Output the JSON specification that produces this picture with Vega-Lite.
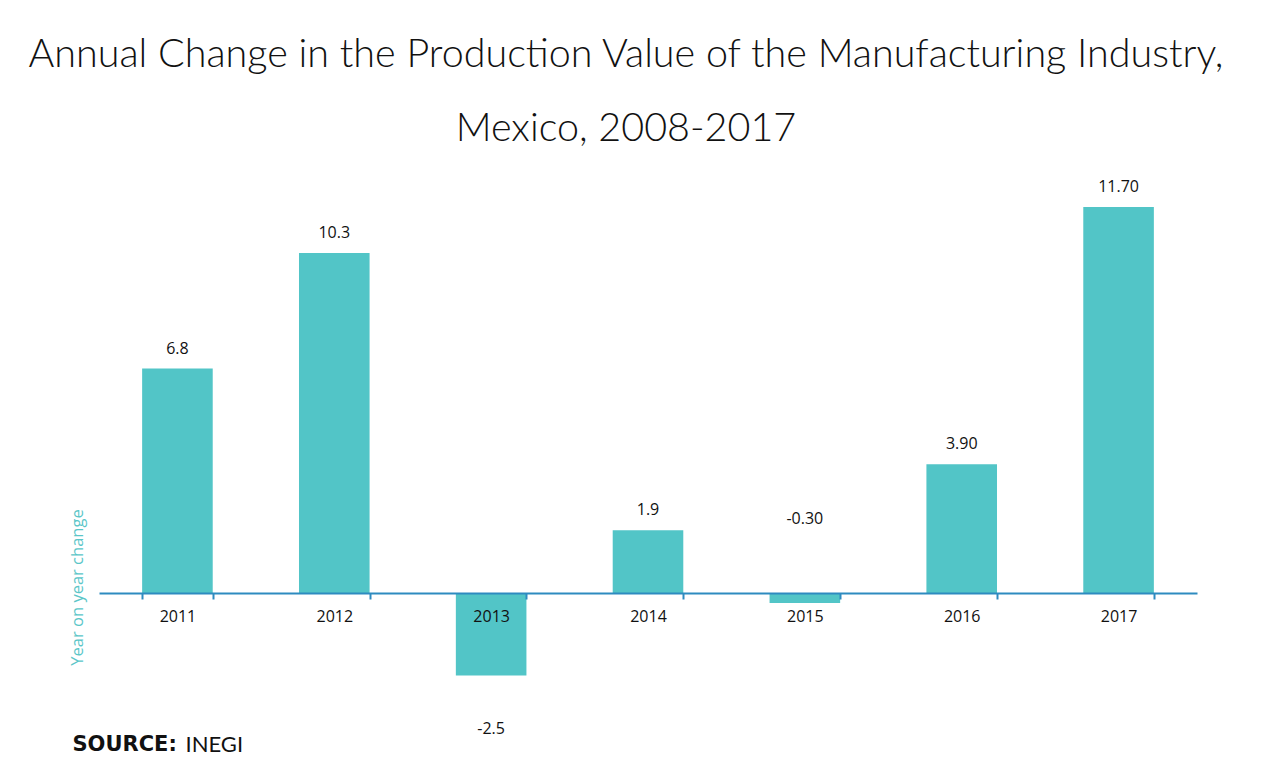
{
  "$schema": "https://vega.github.io/schema/vega-lite/v6.json",
  "width": 1098,
  "height": 495,
  "autosize": {"type": "none"},
  "padding": {"left": 99, "top": 197, "right": 64, "bottom": 81},
  "background": "white",
  "title": {
    "text": ["Annual Change in the Production Value of the Manufacturing Industry,", "Mexico, 2008-2017"],
    "anchor": "middle",
    "frame": "group",
    "dx": -22,
    "font": "Lato",
    "fontSize": 39.5,
    "fontWeight": 300,
    "color": "#111111",
    "lineHeight": 74,
    "baseline": "alphabetic",
    "offset": -2
  },
  "data": {
    "values": [
      {"year": "2011", "value": 6.8, "label": "6.8"},
      {"year": "2012", "value": 10.3, "label": "10.3"},
      {"year": "2013", "value": -2.5, "label": "-2.5"},
      {"year": "2014", "value": 1.9, "label": "1.9"},
      {"year": "2015", "value": -0.3, "label": "-0.30"},
      {"year": "2016", "value": 3.9, "label": "3.90"},
      {"year": "2017", "value": 11.7, "label": "11.70"}
    ]
  },
  "config": {"view": {"stroke": null}},
  "encoding": {
    "x": {
      "field": "year",
      "type": "nominal",
      "sort": null,
      "scale": {"paddingInner": 0.55, "paddingOuter": 0.275}
    },
    "y": {
      "field": "value",
      "type": "quantitative",
      "scale": {"domain": [-3, 12], "nice": false}
    }
  },
  "resolve": {"axis": {"y": "independent"}},
  "layer": [
    {
      "mark": {"type": "bar", "color": "#52C5C7"},
      "encoding": {
        "x": {
          "field": "year",
          "type": "nominal",
          "sort": null,
          "axis": {
            "orient": "bottom",
            "offset": -99,
            "tickBand": "extent",
            "domainColor": "#2E8BC0",
            "domainWidth": 2,
            "tickColor": "#2E8BC0",
            "tickWidth": 2,
            "tickSize": 6,
            "labelAngle": 0,
            "labelFont": "Open Sans",
            "labelFontSize": 16,
            "labelColor": "#111111",
            "labelPadding": 9,
            "title": "SOURCE:",
            "titleFont": "DejaVu Sans",
            "titleFontSize": 21,
            "titleFontWeight": "bold",
            "titleColor": "#111111",
            "titleAngle": 0,
            "titleAlign": "left",
            "titleBaseline": "middle",
            "titleAnchor": "start",
            "titleX": -27,
            "titleY": 151,
            "zindex": 1
          }
        },
        "y": {
          "field": "value",
          "type": "quantitative",
          "axis": {
            "orient": "left",
            "domain": false,
            "ticks": false,
            "labels": false,
            "grid": false,
            "title": "Year on year change",
            "titleFont": "Open Sans",
            "titleFontSize": 16.5,
            "titleFontWeight": "normal",
            "titleColor": "#5BC6C8",
            "titleAngle": -90,
            "titleAlign": "center",
            "titleBaseline": "middle",
            "titleX": -22,
            "titleY": 390
          }
        }
      }
    },
    {
      "transform": [{"filter": "datum.value > 0"}],
      "mark": {"type": "text", "dy": -20, "font": "Open Sans", "fontSize": 16, "color": "#111111", "baseline": "middle"},
      "encoding": {
        "text": {"field": "label"},
        "y": {"field": "value", "type": "quantitative", "axis": null}
      }
    },
    {
      "transform": [{"filter": "datum.year == '2013'"}],
      "mark": {"type": "text", "dy": 53, "font": "Open Sans", "fontSize": 16, "color": "#111111", "baseline": "middle"},
      "encoding": {
        "text": {"field": "label"},
        "y": {"field": "value", "type": "quantitative", "axis": null}
      }
    },
    {
      "transform": [{"filter": "datum.year == '2015'"}],
      "mark": {"type": "text", "dy": -84, "font": "Open Sans", "fontSize": 16, "color": "#111111", "baseline": "middle"},
      "encoding": {
        "text": {"field": "label"},
        "y": {
          "field": "value",
          "type": "quantitative",
          "axis": {
            "orient": "right",
            "domain": false,
            "ticks": false,
            "labels": false,
            "grid": false,
            "title": "INEGI",
            "titleFont": "Lato",
            "titleFontSize": 22,
            "titleFontWeight": "normal",
            "titleColor": "#111111",
            "titleAngle": 0,
            "titleAlign": "left",
            "titleBaseline": "middle",
            "titleX": -1012,
            "titleY": 547
          }
        }
      }
    }
  ]
}
